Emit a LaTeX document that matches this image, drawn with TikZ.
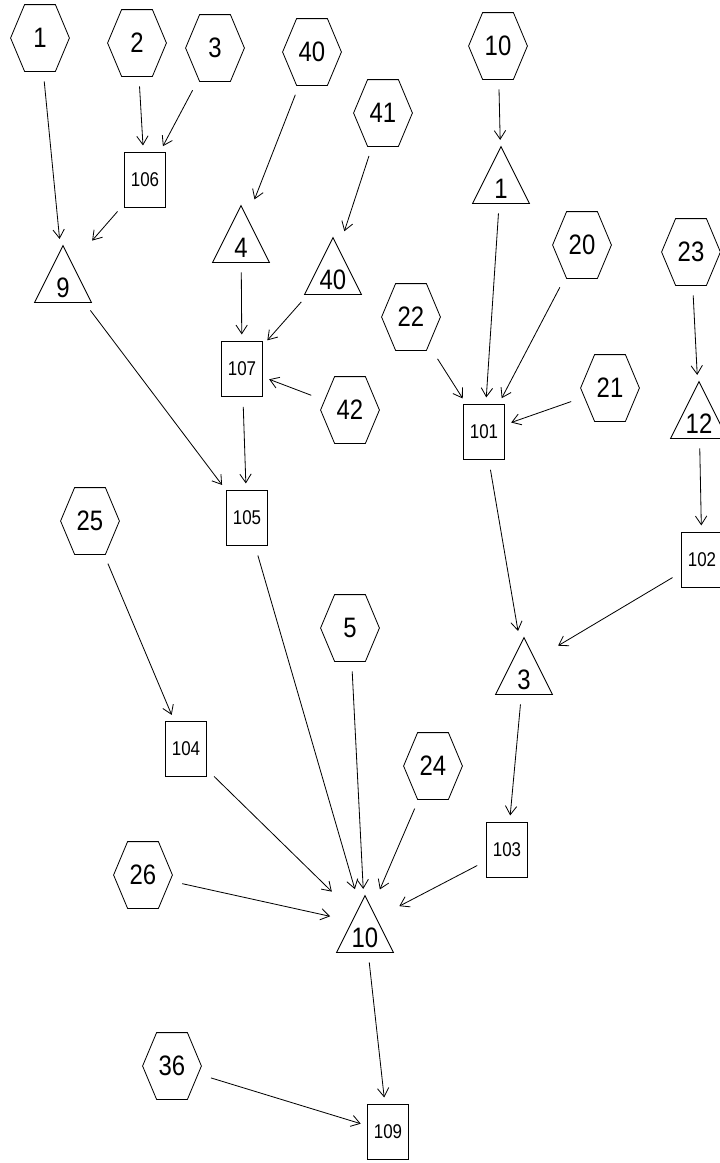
\documentclass[tikz,border=0pt]{standalone}
\usepackage{fontspec}
\setmainfont{Liberation Sans}[FakeStretch=0.85]
\usetikzlibrary{arrows.meta}

\begin{document}
\begin{tikzpicture}[
    x=0.03cm,y=-0.03cm,>={Straight Barb[length=2.6mm,width=3.4mm]},
    line width=0.7pt,
    every node/.style={inner sep=0pt,font=\fontsize{24}{26}\selectfont},
    hexa/.style={minimum width=1.74cm,minimum height=1.98cm,
      append after command={\pgfextra{\draw
        (\tikzlastnode.west) -- ([xshift=0.42cm]\tikzlastnode.north west)
        -- ([xshift=-0.42cm]\tikzlastnode.north east) -- (\tikzlastnode.east)
        -- ([xshift=-0.42cm]\tikzlastnode.south east)
        -- ([xshift=0.42cm]\tikzlastnode.south west) -- cycle;}}},
    tri/.style={minimum width=1.68cm,minimum height=1.68cm,text height=1.38cm,text depth=0pt,
      append after command={\pgfextra{\draw
        (\tikzlastnode.south west) -- (\tikzlastnode.north)
        -- (\tikzlastnode.south east) -- cycle;}}},
    proc/.style={draw,minimum width=1.23cm,minimum height=1.65cm,font=\fontsize{17}{19}\selectfont},
    link/.style={->,shorten <=0.3cm,shorten >=0.2cm}
  ]
  \useasboundingbox (0,0) rectangle (720,1163);
  % inputs
  \node[hexa] (h1) at (40,38) {1};
  \node[hexa] (h2) at (137,43) {2};
  \node[hexa] (h3) at (215,48) {3};
  \node[hexa] (h40) at (312,52) {40};
  \node[hexa] (h41) at (383,113) {41};
  \node[hexa] (h10) at (498,46) {10};
  \node[hexa] (h20) at (582,245) {20};
  \node[hexa] (h23) at (691,252) {23};
  \node[hexa] (h22) at (411,317) {22};
  \node[hexa] (h42) at (350,410) {42};
  \node[hexa] (h21) at (610,388) {21};
  \node[hexa] (h25) at (90,521) {25};
  \node[hexa] (h5) at (350,628) {5};
  \node[hexa] (h24) at (433,766) {24};
  \node[hexa] (h26) at (143,875) {26};
  \node[hexa] (h36) at (172,1066) {36};
  % operations
  \node[tri] (t9) at (63,274) {9};
  \node[tri] (t4) at (241,234) {4};
  \node[tri] (t40) at (333,266) {40};
  \node[tri] (t1) at (501,175) {1};
  \node[tri] (t12) at (699,410) {12};
  \node[tri] (t3) at (524,666) {3};
  \node[tri] (t10) at (365,924) {10};
  % stores
  \node[proc] (b106) at (145,180) {106};
  \node[proc] (b107) at (242,369) {107};
  \node[proc] (b105) at (247,518) {105};
  \node[proc] (b101) at (484,432) {101};
  \node[proc] (b102) at (702,560) {102};
  \node[proc] (b104) at (186,749) {104};
  \node[proc] (b103) at (507,850) {103};
  \node[proc] (b109) at (388,1132) {109};
  % flows
  \draw[link] (h1) -- (t9);
  \draw[link] (h2) -- (b106);
  \draw[link] (h3) -- (b106);
  \draw[link] (b106) -- (t9);
  \draw[link] (h40) -- (t4);
  \draw[link] (h41) -- (t40);
  \draw[link] (t4) -- (b107);
  \draw[link] (t40) -- (b107);
  \draw[link] (h42) -- (b107);
  \draw[link] (t9) -- (b105);
  \draw[link] (b107) -- (b105);
  \draw[link] (h10) -- (t1);
  \draw[link] (t1) -- (b101);
  \draw[link] (h20) -- (b101);
  \draw[link] (h22) -- (b101);
  \draw[link] (h21) -- (b101);
  \draw[link] (h23) -- (t12);
  \draw[link] (t12) -- (b102);
  \draw[link] (b101) -- (t3);
  \draw[link] (b102) -- (t3);
  \draw[link] (h25) -- (b104);
  \draw[link] (b105) -- (t10);
  \draw[link] (h5) -- (t10);
  \draw[link] (h24) -- (t10);
  \draw[link] (b104) -- (t10);
  \draw[link] (h26) -- (t10);
  \draw[link] (b103) -- (t10);
  \draw[link] (t3) -- (b103);
  \draw[link] (t10) -- (b109);
  \draw[link] (h36) -- (b109);
\end{tikzpicture}
\end{document}
